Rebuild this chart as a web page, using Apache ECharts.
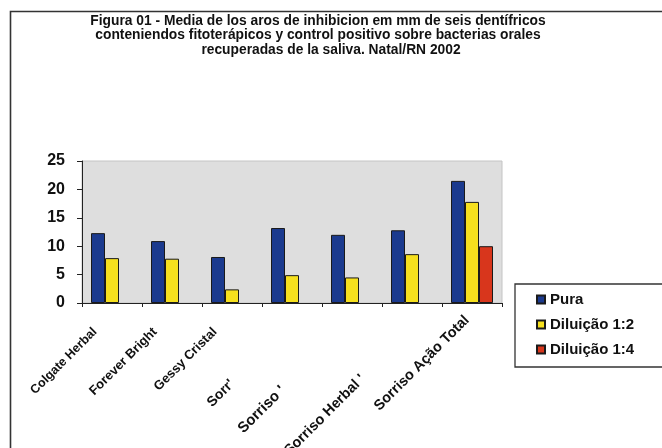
<!DOCTYPE html>
<html>
<head>
<meta charset="utf-8">
<script src="https://cdn.jsdelivr.net/npm/echarts@6/dist/echarts.min.js"></script>
<style>
html,body{margin:0;padding:0;background:#fff;}
#chart{width:662px;height:448px;}
</style>
</head>
<body>
<div id="chart"></div>
<script>
var titleLines = [
  'Figura 01 - Media de los aros de inhibicion em mm de seis dentífricos',
  'conteniendos fitoterápicos y control positivo sobre bacterias orales',
  'recuperadas de la saliva. Natal/RN 2002'
];
var categories = ['Colgate Herbal', 'Forever Bright', 'Gessy Cristal', "Sorr'", "Sorriso '", "Sorriso Herbal '", 'Sorriso Ação Total'];
var seriesNames = ['Pura', 'Diluição 1:2', 'Diluição 1:4'];
var pura = [12.3, 10.9, 8.1, 13.2, 12.0, 12.8, 21.5];
var diluicao12 = [7.9, 7.8, 2.4, 4.9, 4.5, 8.6, 17.8];
var diluicao14 = [null, null, null, null, null, null, 10.0];
var yTicks = [0, 5, 10, 15, 20, 25];

var FONT = '"Liberation Sans", Arial, sans-serif';
// label layout only: [top padding, right padding, font size]
var labelPad = [[0, 24, 12.5], [0, 24, 13], [0, 24, 13], [13, 91, 14], [9, 102, 15], [21, 80, 14.5], [0, 7, 14.5]];
var rich = {};
labelPad.forEach(function (p, i) {
  rich['p' + i] = { padding: [p[0], p[1], 0, 0], fontSize: p[2], fontWeight: 'bold', color: '#111', fontFamily: FONT };
});

var chart = echarts.init(document.getElementById('chart'), null, { renderer: 'canvas' });
var colors = ['#1b3a8e', '#f6e01e', '#d8361c'];
var titleFont = 'bold 13.8px ' + FONT;
var option = {
  animation: false,
  backgroundColor: '#ffffff',
  textStyle: { fontFamily: FONT },
  graphic: [
    { type: 'rect', shape: { x: 10.5, y: 11.5, width: 700, height: 500 }, style: { fill: 'none', stroke: '#333', lineWidth: 1.6 }, silent: true },
    { type: 'text', x: 318, y: 21, style: { text: titleLines[0], textAlign: 'center', textVerticalAlign: 'middle', verticalAlign: 'middle', font: titleFont, fill: '#111' } },
    { type: 'text', x: 318, y: 35.5, style: { text: titleLines[1], textAlign: 'center', textVerticalAlign: 'middle', verticalAlign: 'middle', font: titleFont, fill: '#111' } },
    { type: 'text', x: 331, y: 50, style: { text: titleLines[2], textAlign: 'center', textVerticalAlign: 'middle', verticalAlign: 'middle', font: titleFont, fill: '#111' } }
  ],
  legend: {
    orient: 'vertical',
    left: 515,
    top: 284,
    padding: [8, 60, 10, 21],
    itemGap: 10,
    itemWidth: 8,
    itemHeight: 8,
    icon: 'rect',
    borderColor: '#333',
    borderWidth: 1.3,
    backgroundColor: '#fff',
    textStyle: { fontSize: 15, fontWeight: 'bold', color: '#111', fontFamily: FONT },
    data: seriesNames
  },
  grid: {
    left: 82, right: 160, top: 161, bottom: 145,
    containLabel: false, outerBoundsMode: 'none',
    show: true, backgroundColor: '#dedede', borderColor: '#c4c4c4', borderWidth: 1
  },
  xAxis: {
    type: 'category',
    data: categories,
    axisLine: { lineStyle: { color: '#222', width: 1 } },
    axisTick: { show: true, interval: 0, length: 4, lineStyle: { color: '#222' } },
    axisLabel: {
      interval: 0, rotate: 45, margin: 10,
      formatter: function (v, i) { return '{p' + i + '|' + v + '}'; },
      rich: rich
    },
    splitLine: { show: false }
  },
  yAxis: {
    type: 'value',
    min: yTicks[0], max: yTicks[yTicks.length - 1], interval: 5,
    axisLine: { show: true, lineStyle: { color: '#222', width: 1 } },
    axisTick: { show: true, length: 5, lineStyle: { color: '#222' } },
    axisLabel: { fontSize: 16, fontWeight: 'bold', color: '#111', margin: 17, fontFamily: FONT },
    splitLine: { show: false }
  },
  series: [
    { name: seriesNames[0], type: 'bar', data: pura, barGap: '0%', barCategoryGap: '30%',
      itemStyle: { color: colors[0], borderColor: '#1a1a1a', borderWidth: 1 } },
    { name: seriesNames[1], type: 'bar', data: diluicao12, barGap: '0%', barCategoryGap: '30%',
      itemStyle: { color: colors[1], borderColor: '#1a1a1a', borderWidth: 1 } },
    { name: seriesNames[2], type: 'bar', data: diluicao14, barGap: '0%', barCategoryGap: '30%',
      itemStyle: { color: colors[2], borderColor: '#1a1a1a', borderWidth: 1 } }
  ]
};
chart.setOption(option);
</script>
</body>
</html>
